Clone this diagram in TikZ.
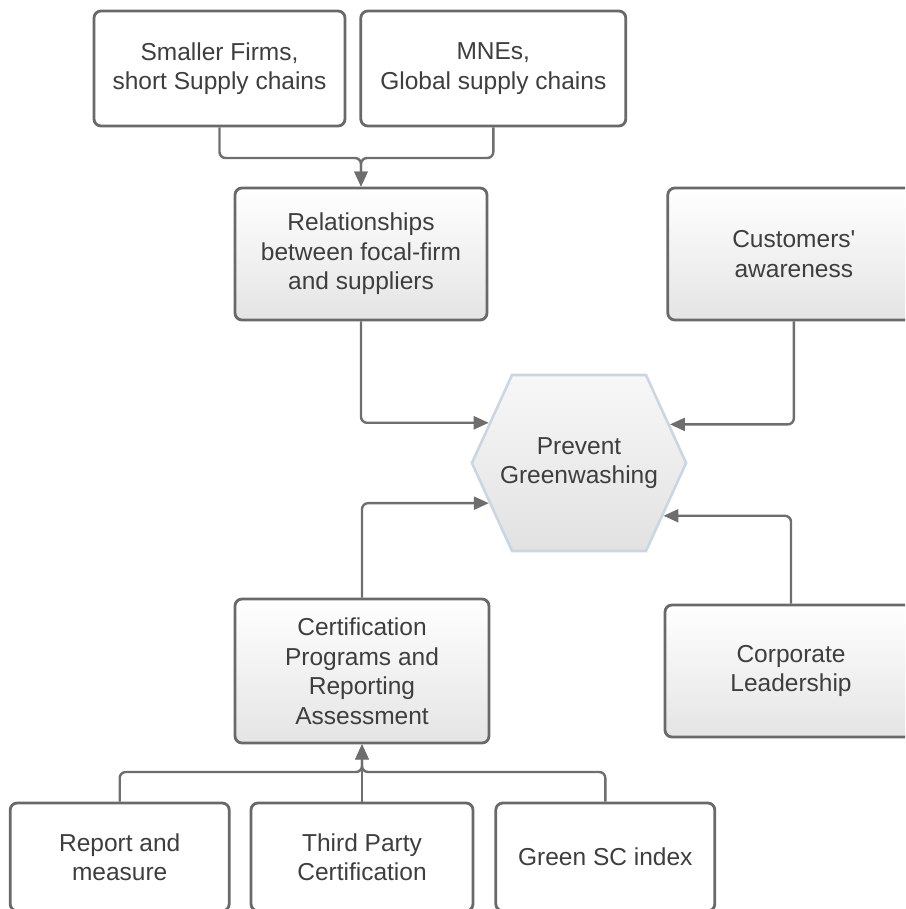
\documentclass[tikz,border=0pt]{standalone}
\usepackage{fontspec}
\setmainfont{Liberation Sans}
\usepackage{tikz}
\usetikzlibrary{positioning,shapes.symbols,arrows.meta}

\definecolor{boxline}{HTML}{696969}
\definecolor{wirecol}{HTML}{6E6E6E}
\definecolor{txtcol}{HTML}{3E3E3E}
\definecolor{hexline}{HTML}{C9D7E5}

\tikzset{
  box/.style={draw=boxline, line width=2.8pt, rounded corners=7pt, fill=white,
    text=txtcol, align=center, inner sep=0pt, font=\fontsize{24.5}{29.5}\selectfont},
  shadebox/.style={box, top color=white, middle color=gray!9, bottom color=gray!21},
  hexa/.style={signal, signal to=west and east, draw=hexline, line width=2.6pt,
    top color=gray!6, middle color=gray!21, bottom color=gray!23,
    text=txtcol, align=center, inner xsep=-12pt, inner ysep=0pt, font=\fontsize{24.5}{29.5}\selectfont},
  wire/.style={draw=wirecol, line width=2.4pt, rounded corners=6pt},
  arr/.style={wire, -{Triangle[length=15pt, width=13pt]}}
}

\begin{document}
\begin{tikzpicture}[x=1pt, y=-1pt]
		\clip (0,0) rectangle (905,909);

		% suppliers
		\node[box, minimum width=251pt, minimum height=115pt] (small) at (219.5, 68.5) {Smaller Firms,\\ short Supply chains};
		\node[box, minimum width=265pt, minimum height=115pt, right=13pt of small] (mne) {MNEs,\\ Global supply chains};
		\node[shadebox, minimum width=252pt, minimum height=132pt] (rel) at (361, 254) {Relationships\\ between focal-firm\\ and suppliers};
		\node[shadebox, minimum width=252pt, minimum height=132pt, right=178pt of rel] (cust) {Customers\textquotesingle\\ awareness};

		% centre
		\node[hexa, minimum height=176pt, signal pointer angle=131] (hex) at (579, 463) {Prevent\\ Greenwashing};

		% lower part
		\node[shadebox, minimum width=254pt, minimum height=144pt] (cert) at (362, 671) {Certification\\ Programs and\\ Reporting\\ Assessment};
		\node[shadebox, minimum width=252pt, minimum height=132pt] (corp) at (791, 671) {Corporate\\ Leadership};
		\node[box, minimum width=222pt, minimum height=108pt] (third) at (362, 857) {Third Party\\ Certification};
		\node[box, minimum width=219pt, minimum height=108pt, left=19pt of third] (report) {Report and\\ measure};
		\node[box, minimum width=219pt, minimum height=108pt, right=20pt of third] (green) {Green SC index};

		\coordinate (topjoin) at (361, 158);
		\coordinate (botjoin) at (362, 772);

		\draw[arr] (small.south) |- (topjoin) -- (rel.north);
		\draw[arr] (mne.south) |- (topjoin) -- (rel.north);

		\draw[arr] (rel.south) |- (hex.156.5);
		\draw[arr] (cust.south) |- (hex.23.5);
		\draw[arr] (cert.north) |- (hex.204);
		\draw[arr] (corp.north) |- (hex.328.7);

		\draw[arr] (report.north) |- (botjoin) -- (cert.south);
		\draw[arr] (green.north) |- (botjoin) -- (cert.south);
		\draw[arr] (third.north) -- (cert.south);
	\end{tikzpicture}
\end{document}
